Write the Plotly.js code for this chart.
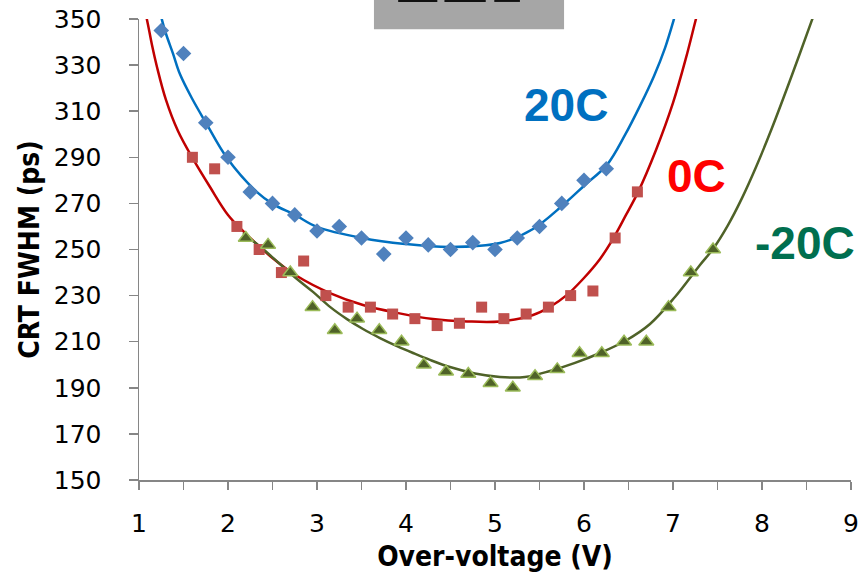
<!DOCTYPE html>
<html>
<head>
<meta charset="utf-8">
<script src="https://cdn.plot.ly/plotly-3.0.1.min.js"></script>
<style>html,body{margin:0;padding:0;background:#fff;}#chart{width:860px;height:577px;}</style>
</head>
<body>
<div id="chart"></div>
<script>
// 20C measurements
var x20 = [1.25,1.5,1.75,2.0,2.25,2.5,2.75,3.0,3.25,3.5,3.75,4.0,4.25,4.5,4.75,5.0,5.25,5.5,5.75,6.0,6.25];
var y20 = [345,335,305,290,275,270,265,258,260,255,248,255,252,250,253,250,255,260,270,280,285];
// 0C measurements
var x0 = [1.6,1.85,2.1,2.35,2.6,2.85,3.1,3.35,3.6,3.85,4.1,4.35,4.6,4.85,5.1,5.35,5.6,5.85,6.1,6.35,6.6];
var y0 = [290,285,260,250,240,245,230,225,225,222,220,217,218,225,220,222,225,230,232,255,275];
// -20C measurements
var xm20 = [2.2,2.45,2.7,2.95,3.2,3.45,3.7,3.95,4.2,4.45,4.7,4.95,5.2,5.45,5.7,5.95,6.2,6.45,6.7,6.95,7.2,7.45];
var ym20 = [255,252,240,225,215,220,215,210,200,197,196,192,190,195,198,205,205,210,210,225,240,250];

// trend curves
var fx20 = [1.236,1.258,1.303,1.382,1.461,1.596,1.753,1.989,2.326,2.506,2.753,3.0,3.506,3.989,4.494,5.056,5.427,5.764,6.011,6.258,6.461,6.629,6.787,6.910,7.011,7.045];
var fy20 = [353.9,349.6,343.6,335.0,326.0,315.5,304.9,289.7,274.9,269.7,265.0,259.8,255.0,252.4,251.1,252.8,258.9,269.3,278.0,286.7,299.7,312.3,325.3,337.4,350,354.8];
var fx0 = [1.067,1.090,1.146,1.202,1.303,1.438,1.607,1.798,2.0,2.191,2.472,2.775,3.146,3.517,3.899,4.303,4.685,5.056,5.427,5.618,5.809,5.989,6.180,6.326,6.472,6.607,6.809,7.0,7.146,7.258,7.292];
var fy0 = [353.0,349.6,338.7,329.2,314.9,301.4,289.3,277.1,265.0,257.2,247.2,238.5,231.1,225.9,222.5,219.8,218.8,218.8,221.6,225.1,230.3,237.2,245.9,254.6,265.0,274.9,293.2,313.6,333.1,350,354.8];
var fxm20 = [2.169,2.393,2.584,2.775,2.955,3.146,3.337,3.517,3.708,3.899,4.079,4.270,4.494,4.775,5.056,5.337,5.618,5.899,6.180,6.461,6.742,7.022,7.303,7.449,7.618,7.775,7.933,8.112,8.337,8.562,8.607];
var fym20 = [257.2,250.2,243.7,237.2,231.6,225.1,219.8,215.5,211.6,208.1,205.1,202.1,199.0,196.2,194.7,194.7,197.3,200.8,205.1,210.3,217.7,229.4,243.3,250.2,260.6,272.3,285.8,302.7,325.7,349.6,354.3];

var xTickVals = [1,1.5,2,2.5,3,3.5,4,4.5,5,5.5,6,6.5,7,7.5,8,8.5,9];
var xTickText = ['1','','2','','3','','4','','5','','6','','7','','8','','9'];
var yTickVals = [150,170,190,210,230,250,270,290,310,330,350];

var seriesLabels = ['20C','0C','-20C'];

var traces = [
  {x: fx20, y: fy20, mode: 'lines', line: {color: '#0070C0', width: 2.5, shape: 'spline', smoothing: 1}, hoverinfo: 'skip'},
  {x: fx0, y: fy0, mode: 'lines', line: {color: '#C00000', width: 2.5, shape: 'spline', smoothing: 1}, hoverinfo: 'skip'},
  {x: fxm20, y: fym20, mode: 'lines', line: {color: '#4F6228', width: 2.5, shape: 'spline', smoothing: 1}, hoverinfo: 'skip'},
  {x: x20, y: y20, mode: 'markers', marker: {symbol: 'diamond', size: 12, color: '#4F81BD'}},
  {x: x0, y: y0, mode: 'markers', marker: {symbol: 'square', size: 11, color: '#C0504D'}},
  {x: xm20, y: ym20, mode: 'markers', marker: {symbol: 'triangle-up', size: 13, color: '#4F6228', line: {color: '#9BBB59', width: 1.5}}}
];

var layout = {
  width: 860, height: 577,
  margin: {l: 139, r: 9, t: 19, b: 97},
  paper_bgcolor: '#fff', plot_bgcolor: '#fff',
  showlegend: false,
  font: {family: 'DejaVu Sans, sans-serif', color: '#000'},
  xaxis: {
    range: [1, 9], tickvals: xTickVals, ticktext: xTickText,
    showgrid: false, zeroline: false, showline: true, linecolor: '#868686', linewidth: 1.5,
    ticks: 'outside', ticklen: 8, tickcolor: '#868686', tickwidth: 1.5,
    tickfont: {size: 25, family: 'DejaVu Sans, sans-serif', color: '#000'},
    ticklabelstandoff: 12,
    title: {text: '<b>Over-voltage (V)</b>', font: {size: 28, family: 'DejaVu Sans Condensed, DejaVu Sans, sans-serif'}, standoff: 10}
  },
  yaxis: {
    range: [150, 350], tickvals: yTickVals,
    showgrid: false, zeroline: false, showline: true, linecolor: '#868686', linewidth: 1.5,
    ticks: 'outside', ticklen: 9, tickcolor: '#868686', tickwidth: 1.5,
    tickfont: {size: 25, family: 'DejaVu Sans, sans-serif', color: '#000'},
    ticklabelstandoff: 22,
    title: {text: '<b>CRT FWHM (ps)</b>', font: {size: 28, family: 'DejaVu Sans Condensed, DejaVu Sans, sans-serif'}, standoff: 6}
  },
  shapes: [
    {type: 'rect', xref: 'paper', yref: 'paper', x0: 0.330, x1: 0.597, y0: 0.978, y1: 1.05, fillcolor: '#A6A6A6', line: {width: 0}, layer: 'above'},
    {type: 'rect', xref: 'paper', yref: 'paper', x0: 0.364, x1: 0.419, y0: 1.037, y1: 1.05, fillcolor: '#111', line: {width: 0}, layer: 'above'},
    {type: 'rect', xref: 'paper', yref: 'paper', x0: 0.429, x1: 0.487, y0: 1.037, y1: 1.05, fillcolor: '#111', line: {width: 0}, layer: 'above'},
    {type: 'rect', xref: 'paper', yref: 'paper', x0: 0.499, x1: 0.535, y0: 1.037, y1: 1.05, fillcolor: '#111', line: {width: 0}, layer: 'above'}
  ],
  annotations: [
    {text: '<b>' + seriesLabels[0] + '</b>', x: 5.80, y: 312.7, xref: 'x', yref: 'y', showarrow: false, xanchor: 'center', yanchor: 'middle',
     font: {size: 46, family: 'Liberation Sans, Arial, sans-serif', color: '#0070C0'}},
    {text: '<b>' + seriesLabels[1] + '</b>', x: 7.26, y: 281.9, xref: 'x', yref: 'y', showarrow: false, xanchor: 'center', yanchor: 'middle',
     font: {size: 46, family: 'Liberation Sans, Arial, sans-serif', color: '#FF0000'}},
    {text: '<b>' + seriesLabels[2] + '</b>', x: 8.48, y: 252.8, xref: 'x', yref: 'y', showarrow: false, xanchor: 'center', yanchor: 'middle',
     font: {size: 46, family: 'Liberation Sans, Arial, sans-serif', color: '#006F4F'}}
  ]
};

Plotly.newPlot('chart', traces, layout, {displayModeBar: false, staticPlot: true});
</script>
</body>
</html>
